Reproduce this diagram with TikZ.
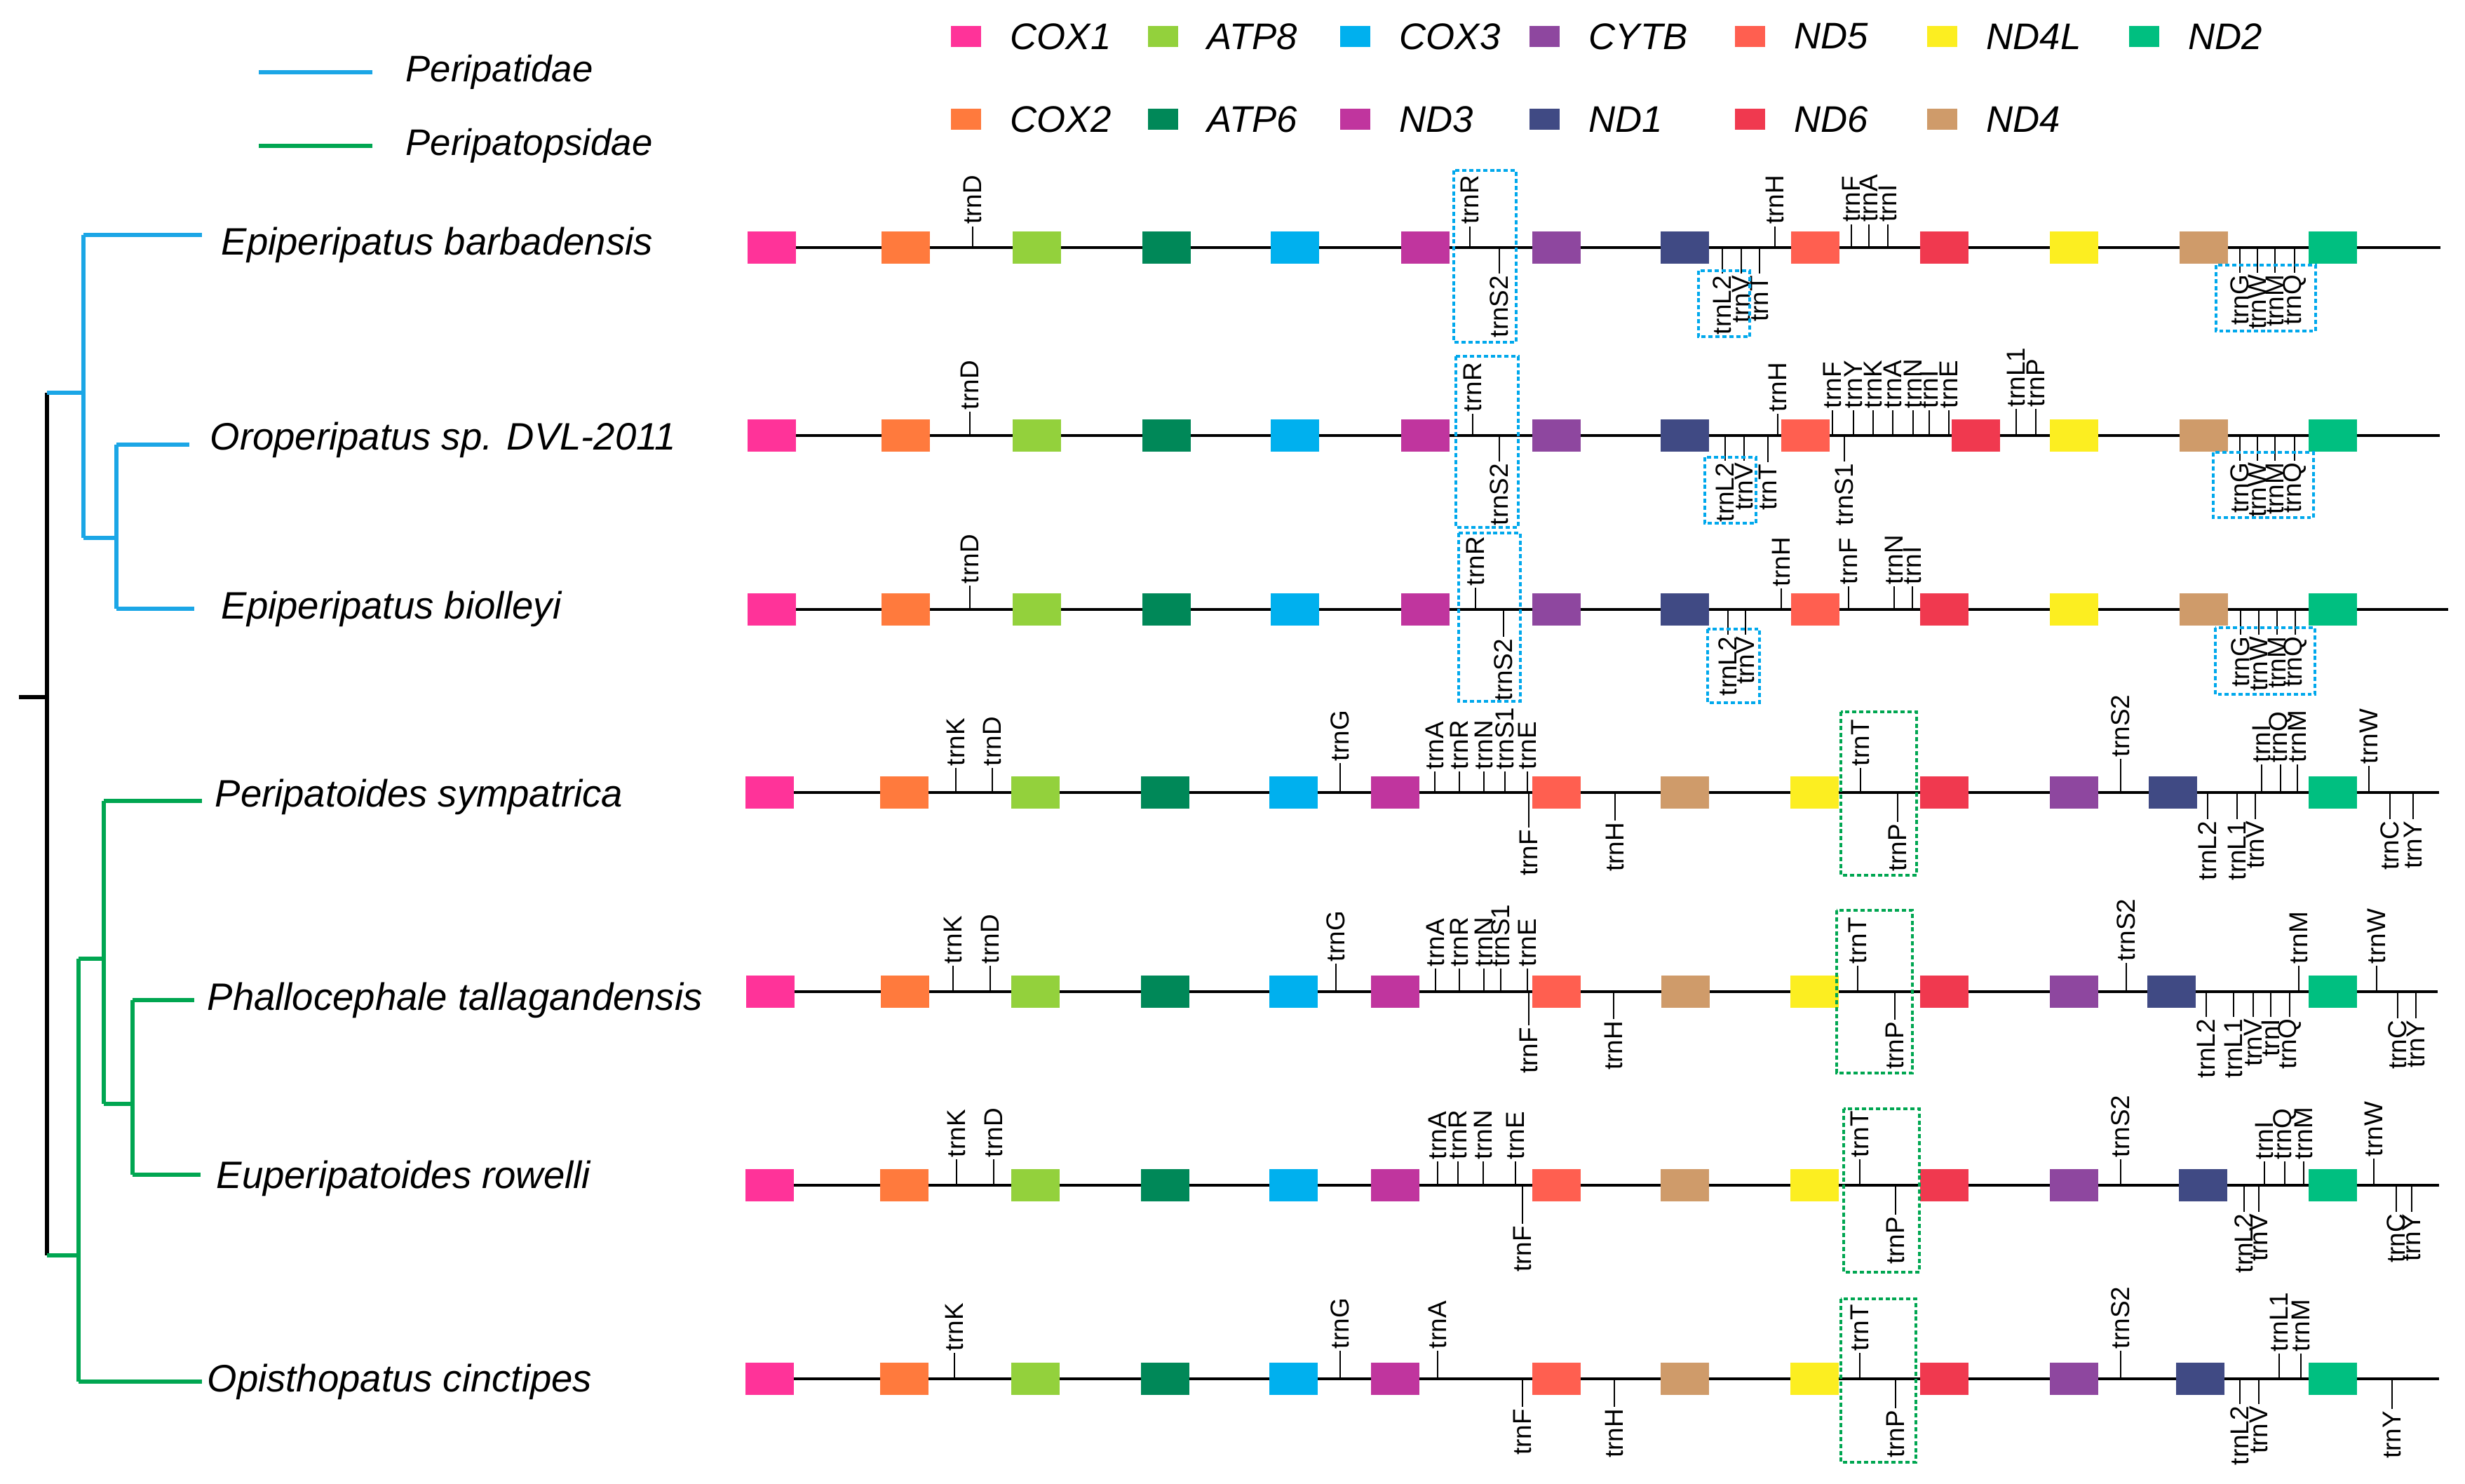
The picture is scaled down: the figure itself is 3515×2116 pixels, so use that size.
\documentclass[tikz,border=0pt]{standalone}
\usepackage{fontspec}
\setmainfont{Liberation Sans}
\definecolor{cox1}{HTML}{FF3399}
\definecolor{cox2}{HTML}{FF7A3D}
\definecolor{atp8}{HTML}{93D13C}
\definecolor{atp6}{HTML}{008858}
\definecolor{cox3}{HTML}{00B0EE}
\definecolor{nd3}{HTML}{C0359E}
\definecolor{cytb}{HTML}{8E479F}
\definecolor{nd1}{HTML}{404A84}
\definecolor{nd5}{HTML}{FF5F50}
\definecolor{nd6}{HTML}{F0394F}
\definecolor{nd4l}{HTML}{FCEE21}
\definecolor{nd4}{HTML}{CF9B6A}
\definecolor{nd2}{HTML}{00BF80}
\definecolor{periblue}{HTML}{1BA6E6}
\definecolor{perigreen}{HTML}{00A651}
\definecolor{boxblue}{HTML}{00A8EC}
\definecolor{boxgreen}{HTML}{00A651}
\tikzset{
  genebox/.style={draw=none,minimum width=0.69cm,minimum height=0.46cm,inner sep=0pt},
  legbox/.style={draw=none,minimum width=0.43cm,minimum height=0.30cm,inner sep=0pt},
  mainline/.style={line width=1.05pt,black},
  tick/.style={line width=0.5pt,black},
  uplab/.style={rotate=90,anchor=west,inner sep=0.6pt,font=\fontsize{10.5}{12}\selectfont},
  dnlab/.style={rotate=90,anchor=east,inner sep=0.6pt,font=\fontsize{10.5}{12}\selectfont},
  legtext/.style={anchor=west,inner sep=0pt,font=\fontsize{15}{18}\selectfont\itshape},
  sptext/.style={anchor=west,inner sep=0pt,font=\fontsize{15.5}{18}\selectfont\itshape},
  treeline/.style={line width=1.7pt},
  bluebox/.style={draw=boxblue,line width=1.2pt,dash pattern=on 1.7pt off 1.1pt},
  greenbox/.style={draw=boxgreen,line width=1.2pt,dash pattern=on 1.7pt off 1.1pt}
}
\newcommand\trU[3][33]{\draw[tick] (#2,\ry) -- ++(0,-#1) node[uplab]{trn#3};}
\newcommand\trD[3][40]{\draw[tick] (#2,\ry) -- ++(0,#1) node[dnlab]{trn#3};}
\newcommand\generow[1]{\foreach \c/\x [count=\i] in {#1} \node[genebox,fill=\c] (\rn g\i) at (\x+34.5,\ry) {};}
\newcommand\rowline[1]{\coordinate (\rn s) at (1100,\ry); \coordinate (\rn e) at (#1,\ry); \draw[mainline] (\rn s) -- (\rn e);}
\begin{document}
\begin{tikzpicture}[x=0.01cm,y=-0.01cm]
\useasboundingbox (0,0) rectangle (3515,2116);

% ---------------- legend ----------------
\foreach \c/\t/\x in {cox1/COX1/1356,atp8/ATP8/1637,cox3/COX3/1911,cytb/CYTB/2181,nd5/ND5/2474,nd4l/ND4L/2748,nd2/ND2/3036}{
  \node[legbox,fill=\c] (lg\t) at (\x+21,52) {};
  \node[legtext] (lt\t) at (\x+84,52) {\t};
}
\foreach \c/\t/\x in {cox2/COX2/1356,atp6/ATP6/1637,nd3/ND3/1911,nd1/ND1/2181,nd6/ND6/2474,nd4/ND4/2748}{
  \node[legbox,fill=\c] (lg\t) at (\x+21,170) {};
  \node[legtext] (lt\t) at (\x+84,170) {\t};
}
\coordinate (lbA) at (369,103); \coordinate (lbB) at (531,103);
\draw[treeline,periblue] (lbA) -- (lbB);
\node[legtext] (ltA) at (578,103) {Peripatidae};
\coordinate (lgA) at (369,208); \coordinate (lgB) at (531,208);
\draw[treeline,perigreen] (lgA) -- (lgB);
\node[legtext] (ltB) at (578,208) {Peripatopsidae};

% ---------------- tree ----------------
\node[sptext] (sp1) at (315,349) {Epiperipatus barbadensis};
\node[sptext] (sp2) at (299,627) {Oroperipatus sp. DVL-2011};
\node[sptext] (sp3) at (315,868) {Epiperipatus biolleyi};
\node[sptext] (sp4) at (306,1136) {Peripatoides sympatrica};
\node[sptext] (sp5) at (295,1426) {Phallocephale tallagandensis};
\node[sptext] (sp6) at (308,1680) {Euperipatoides rowelli};
\node[sptext] (sp7) at (295,1970) {Opisthopatus cinctipes};

\coordinate (root0) at (27,994);
\coordinate (root) at (67,994);
\coordinate (rt) at (67,560);
\coordinate (rb) at (67,1790);
\coordinate (nA) at (119,560);
\coordinate (nAt) at (119,335);
\coordinate (nAb) at (119,767);
\coordinate (nB) at (166,767);
\coordinate (nBt) at (166,634);
\coordinate (nBb) at (166,868);
\coordinate (l1) at (288,335);
\coordinate (l2) at (270,634);
\coordinate (l3) at (277,868);
\coordinate (nC) at (112,1790);
\coordinate (nCt) at (112,1367);
\coordinate (nCb) at (112,1970);
\coordinate (nD) at (148,1367);
\coordinate (nDt) at (148,1142);
\coordinate (nDb) at (148,1574);
\coordinate (nE) at (189,1574);
\coordinate (nEt) at (189,1426);
\coordinate (nEb) at (189,1675);
\coordinate (l4) at (288,1142);
\coordinate (l5) at (277,1426);
\coordinate (l6) at (286,1675);
\coordinate (l7) at (288,1970);

\draw[treeline,black] (root0) -- (root);
\draw[treeline,black] (rt) -- (rb);
\draw[treeline,periblue] (rt) -- (nA);
\draw[treeline,periblue] (nAt) -- (nAb);
\draw[treeline,periblue] (nAt) -- (l1);
\draw[treeline,periblue] (nAb) -- (nB);
\draw[treeline,periblue] (nBt) -- (nBb);
\draw[treeline,periblue] (nBt) -- (l2);
\draw[treeline,periblue] (nBb) -- (l3);
\draw[treeline,perigreen] (rb) -- (nC);
\draw[treeline,perigreen] (nCt) -- (nCb);
\draw[treeline,perigreen] (nCb) -- (l7);
\draw[treeline,perigreen] (nCt) -- (nD);
\draw[treeline,perigreen] (nDt) -- (nDb);
\draw[treeline,perigreen] (nDt) -- (l4);
\draw[treeline,perigreen] (nDb) -- (nE);
\draw[treeline,perigreen] (nEt) -- (nEb);
\draw[treeline,perigreen] (nEt) -- (l5);
\draw[treeline,perigreen] (nEb) -- (l6);

% ---------------- row 1 ----------------
\def\ry{353}\def\rn{ra}
\rowline{3480}
\generow{cox1/1066,cox2/1257,atp8/1444,atp6/1629,cox3/1812,nd3/1998,cytb/2185,nd1/2368,nd5/2554,nd6/2738,nd4l/2923,nd4/3108,nd2/3292}
\trU[30]{1387}{D}
\trU[30]{2096}{R}
\trD[37]{2138}{S2}
\trD[37]{2456}{L2}\trD[37]{2483}{V}\trD[37]{2509}{T}
\trU[30]{2531}{H}
\trU[33]{2640}{F}\trU[33]{2665}{A}\trU[33]{2692}{I}
\trD[36]{3194}{G}\trD[36]{3219}{W}\trD[36]{3244}{M}\trD[36]{3272}{Q}
\draw[bluebox] (2073,243) rectangle (2162,488);
\draw[bluebox] (2422,386) rectangle (2495,480);
\draw[bluebox] (3160,378) rectangle (3302,472);

% ---------------- row 2 ----------------
\def\ry{621}\def\rn{rb}
\rowline{3479}
\generow{cox1/1066,cox2/1257,atp8/1444,atp6/1629,cox3/1812,nd3/1998,cytb/2185,nd1/2368,nd5/2540,nd6/2783,nd4l/2923,nd4/3108,nd2/3292}
\trU[34]{1383}{D}
\trU[31]{2100}{R}
\trD[37]{2138}{S2}
\trD[36]{2460}{L2}\trD[36]{2487}{V}\trD[38]{2521}{T}
\trU[31]{2535}{H}
\trU[36]{2613}{F}\trU[36]{2643}{Y}\trU[36]{2671}{K}\trU[36]{2699}{A}\trU[36]{2728}{N}\trU[36]{2751}{I}\trU[36]{2779}{E}
\trD[37]{2630}{S1}
\trU[38]{2875}{L1}\trU[38]{2903}{P}
\trD[36]{3194}{G}\trD[36]{3219}{W}\trD[36]{3244}{M}\trD[36]{3272}{Q}
\draw[bluebox] (2076,508) rectangle (2165,752);
\draw[bluebox] (2431,652) rectangle (2504,746);
\draw[bluebox] (3156,645) rectangle (3299,738);

% ---------------- row 3 ----------------
\def\ry{869}\def\rn{rc}
\rowline{3491}
\generow{cox1/1066,cox2/1257,atp8/1444,atp6/1629,cox3/1812,nd3/1998,cytb/2185,nd1/2368,nd5/2554,nd6/2738,nd4l/2923,nd4/3108,nd2/3292}
\trU[34]{1383}{D}
\trU[31]{2104}{R}
\trD[39]{2144}{S2}
\trD[36]{2464}{L2}\trD[36]{2489}{V}
\trU[30]{2540}{H}
\trU[33]{2636}{F}
\trU[33]{2701}{N}\trU[33]{2727}{I}
\trD[36]{3195}{G}\trD[36]{3221}{W}\trD[36]{3247}{M}\trD[36]{3273}{Q}
\draw[bluebox] (2080,760) rectangle (2168,1000);
\draw[bluebox] (2435,897) rectangle (2509,1002);
\draw[bluebox] (3159,895) rectangle (3301,990);

% ---------------- row 4 ----------------
\def\ry{1130}\def\rn{rd}
\rowline{3478}
\generow{cox1/1063,cox2/1255,atp8/1442,atp6/1627,cox3/1810,nd3/1955,nd5/2185,nd4/2368,nd4l/2553,nd6/2738,cytb/2923,nd1/3064,nd2/3292}
\trU[35]{1363}{K}\trU[35]{1415}{D}
\trU[42]{1911}{G}
\trU[30]{2046}{A}\trU[30]{2081}{R}\trU[30]{2116}{N}\trU[30]{2146}{S1}\trU[30]{2178}{E}
\trD[50]{2180}{F}
\trD[40]{2303}{H}
\trU[35]{2653}{T}
\trD[42]{2706}{P}
\trU[48]{3024}{S2}
\trD[38]{3148}{L2}\trD[38]{3190}{L1}\trD[38]{3216}{V}
\trU[40]{3225}{I}\trU[40]{3252}{Q}\trU[40]{3276}{M}
\trU[38]{3378}{W}
\trD[38]{3408}{C}\trD[38]{3441}{Y}
\draw[greenbox] (2625,1015) rectangle (2733,1248);

% ---------------- row 5 ----------------
\def\ry{1414}\def\rn{re}
\rowline{3476}
\generow{cox1/1064,cox2/1256,atp8/1442,atp6/1627,cox3/1810,nd3/1955,nd5/2185,nd4/2369,nd4l/2553,nd6/2738,cytb/2923,nd1/3062,nd2/3292}
\trU[37]{1359}{K}\trU[37]{1412}{D}
\trU[40]{1905}{G}
\trU[33]{2047}{A}\trU[33]{2081}{R}\trU[33]{2116}{N}\trU[33]{2140}{S1}\trU[33]{2178}{E}
\trD[48]{2180}{F}
\trD[39]{2301}{H}
\trU[37]{2649}{T}
\trD[40]{2702}{P}
\trU[41]{3032}{S2}
\trD[36]{3146}{L2}\trD[36]{3185}{L1}\trD[36]{3213}{V}\trD[36]{3238}{I}\trD[36]{3265}{Q}
\trU[37]{3278}{M}
\trU[37]{3389}{W}
\trD[38]{3419}{C}\trD[38]{3445}{Y}
\draw[greenbox] (2619,1298) rectangle (2727,1530);

% ---------------- row 6 ----------------
\def\ry{1690}\def\rn{rf}
\rowline{3478}
\generow{cox1/1063,cox2/1255,atp8/1442,atp6/1627,cox3/1810,nd3/1955,nd5/2185,nd4/2368,nd4l/2553,nd6/2738,cytb/2923,nd1/3107,nd2/3292}
\trU[37]{1364}{K}\trU[37]{1417}{D}
\trU[34]{2050}{A}\trU[34]{2079}{R}\trU[34]{2115}{N}\trU[34]{2161}{E}
\trD[55]{2171}{F}
\trU[37]{2652}{T}
\trD[42]{2703}{P}
\trU[37]{3024}{S2}
\trD[38]{3200}{L2}\trD[38]{3221}{V}
\trU[34]{3229}{I}\trU[34]{3258}{Q}\trU[34]{3285}{M}
\trU[38]{3385}{W}
\trD[38]{3417}{C}\trD[38]{3439}{Y}
\draw[greenbox] (2629,1581) rectangle (2737,1814);

% ---------------- row 7 ----------------
\def\ry{1966}\def\rn{rg}
\rowline{3478}
\generow{cox1/1063,cox2/1255,atp8/1442,atp6/1627,cox3/1810,nd3/1955,nd5/2185,nd4/2368,nd4l/2553,nd6/2738,cytb/2923,nd1/3103,nd2/3292}
\trU[37]{1361}{K}
\trU[40]{1911}{G}
\trU[40]{2050}{A}
\trD[40]{2171}{F}
\trD[40]{2302}{H}
\trU[37]{2652}{T}
\trD[42]{2703}{P}
\trU[40]{3024}{S2}
\trD[36]{3194}{L2}\trD[36]{3221}{V}
\trU[36]{3250}{L1}\trU[36]{3281}{M}
\trD[43]{3411}{Y}
\draw[greenbox] (2625,1852) rectangle (2732,2085);
\end{tikzpicture}
\end{document}
